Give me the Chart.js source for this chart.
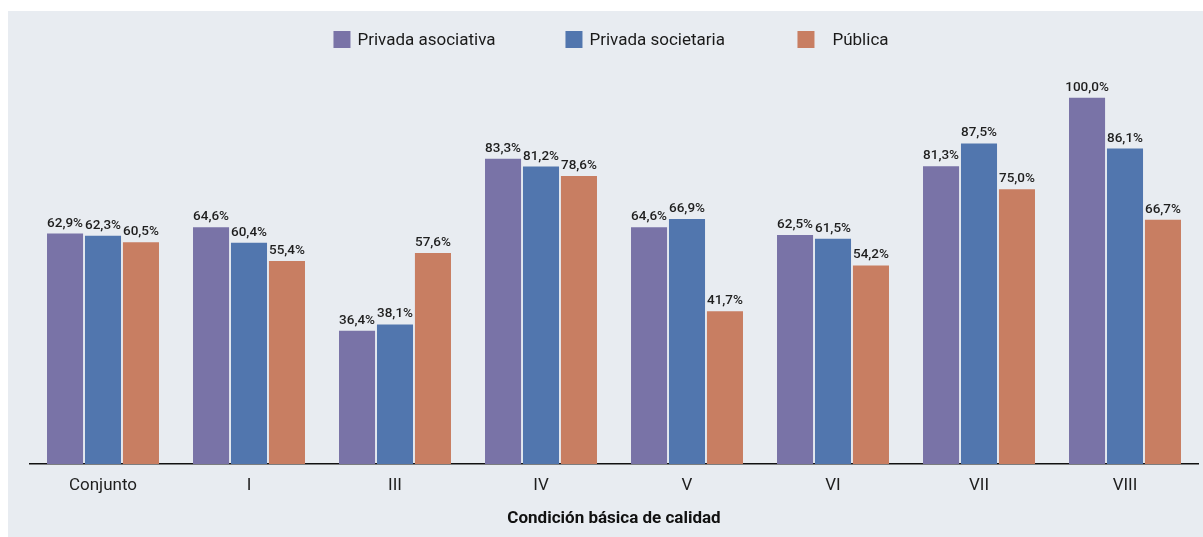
<!DOCTYPE html>
<html>
<head>
<meta charset="utf-8">
<script src="https://cdn.jsdelivr.net/npm/chart.js@4"></script>
<style>
	body { margin: 0; background: #fff; }
	#panel { position: absolute; left: 8px; top: 11px; width: 1195px; height: 526px; background: #e8ecf1; }
</style>
</head>
<body>
<div id="panel"><canvas id="graph"></canvas></div>
<script>
const categories = ["Conjunto", "I", "III", "IV", "V", "VI", "VII", "VIII"];
const seriesNames = ["Privada asociativa", "Privada societaria", "Pública"];
const asociativa = [62.9, 64.6, 36.4, 83.3, 64.6, 62.5, 81.3, 100.0];
const societaria = [62.3, 60.4, 38.1, 81.2, 66.9, 61.5, 87.5, 86.1];
const publica = [60.5, 55.4, 57.6, 78.6, 41.7, 54.2, 75.0, 66.7];
const colors = ["#7973a7", "#5176ae", "#c87e62"];
const axisTitle = "Condición básica de calidad";

const police = "Roboto, 'DejaVu Sans', sans-serif";

// étiquettes au-dessus des barres
const valueLabels = {
	id: "valueLabels",
	afterDatasetsDraw(chart) {
		const ctx = chart.ctx;
		ctx.save();
		ctx.font = "500 13.5px " + police;
		ctx.fillStyle = "#1e1e1e";
		ctx.textAlign = "center";
		ctx.textBaseline = "alphabetic";
		chart.data.datasets.forEach((ds, i) => {
			chart.getDatasetMeta(i).data.forEach((bar, j) => {
				const txt = ds.data[j].toFixed(1).replace(".", ",") + "%";
				ctx.fillText(txt, bar.x, bar.y - 7);
			});
		});
		ctx.restore();
	},
};

// légende à emplacements fixes
const topLegend = {
	id: "topLegend",
	afterDraw(chart) {
		const ctx = chart.ctx;
		const slot = 232;
		const box = 17;
		ctx.save();
		ctx.font = "17px " + police;
		const total = slot * (chart.data.datasets.length - 1) + box + 7 +
			ctx.measureText(chart.data.datasets.at(-1).label).width;
		let x = chart.width / 2 - total / 2;
		const y = 28.5;
		ctx.textBaseline = "middle";
		ctx.textAlign = "left";
		chart.data.datasets.forEach((ds, i) => {
			ctx.fillStyle = ds.backgroundColor;
			ctx.fillRect(x, y - box / 2, box, box);
			ctx.fillStyle = "#1a1a1a";
			// le dernier libellé est un peu décalé dans l'original
			const gap = i === chart.data.datasets.length - 1 ? 18 : 7;
			ctx.fillText(ds.label, x + box + gap, y + 1);
			x += slot;
		});
		ctx.restore();
	},
};

const canva = document.querySelector("#graph");
new Chart(canva, {
	type: "bar",
	data: {
		labels: categories,
		datasets: [
			{ label: seriesNames[0], data: asociativa, backgroundColor: colors[0] },
			{ label: seriesNames[1], data: societaria, backgroundColor: colors[1] },
			{ label: seriesNames[2], data: publica, backgroundColor: colors[2] },
		],
	},
	options: {
		responsive: true,
		maintainAspectRatio: false,
		animation: false,
		layout: { padding: { top: 50, left: 22, right: 5, bottom: 0 } },
		datasets: { bar: { categoryPercentage: 0.78, barPercentage: 0.95, borderWidth: 0 } },
		plugins: {
			legend: { display: false },
			tooltip: { enabled: false },
		},
		scales: {
			x: {
				grid: { display: false, drawTicks: false },
				border: { display: true, color: "#111", width: 1.5 },
				ticks: { color: "#1e1e1e", padding: 12, font: { family: police, size: 17 } },
				title: {
					display: true,
					text: axisTitle,
					color: "#111",
					font: { family: police, size: 17, weight: "bold" },
					padding: { top: 10, bottom: 8 },
				},
				afterFit: (s) => { s.height = 73; },
			},
			y: {
				display: false,
				min: 0,
				max: 110,
			},
		},
	},
	plugins: [valueLabels, topLegend],
});
</script>
</body>
</html>
